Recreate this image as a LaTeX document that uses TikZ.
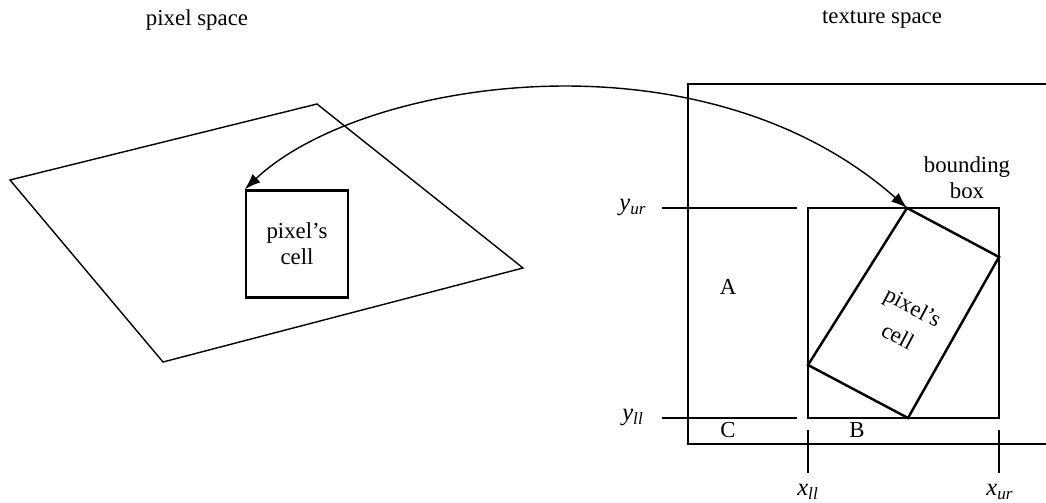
\documentclass[tikz,border=0pt]{standalone}
\usepackage{fontspec}
\setmainfont{Liberation Serif}
\usepackage{tikz}
\usetikzlibrary{arrows.meta,positioning}

\begin{document}
\begin{tikzpicture}[
    x=0.02cm, y=-0.02cm,
    every node/.style={font=\fontsize{13}{15}\selectfont},
    thin line/.style={line width=0.8pt},
    cell/.style={line width=1.4pt},
    cellbox/.style={draw, line width=1.4pt, align=center, minimum width=2.04cm, minimum height=2.14cm, inner sep=0pt},
    lbl/.style={inner sep=1pt},
    bound/.style={inner sep=1pt, font=\fontsize{14}{16}\selectfont\itshape},
    arr/.style={{Latex[length=3.2mm,width=2.3mm]}-{Latex[length=3.2mm,width=2.3mm]}, line width=0.8pt}
]
\useasboundingbox (0,0) rectangle (1046,503);

% titles
\node (tpix) at (197,20) {pixel space};
\node (ttex) at (882,20) {texture space};

% pixel space
\draw[thin line] (10,180) -- (317,104) -- (523,268) -- (163,362) -- cycle;
\node[cellbox] (pcell) at (297,244) {pixel's\\cell};

% texture space
\coordinate (tl) at (688,84);
\draw[thin line] (1046,84) -- (tl) -- (688,444) -- (1046,444);
\node[draw, thin line, minimum width=3.82cm, minimum height=4.2cm, inner sep=0pt] (bbox) at (903.5,313) {};
\node[align=center, lbl] (bblbl) at (967,178) {bounding\\box};

% bounds
\node[bound] (yur) at (633,208) {y\textsubscript{ur}};
\node[bound] (yll) at (633,418) {y\textsubscript{ll}};
\node[bound] (xll) at (808,492) {x\textsubscript{ll}};
\node[bound] (xur) at (1000,492) {x\textsubscript{ur}};
\draw[thin line] (662,208) -- (797,208);
\draw[thin line] (662,418) -- (797,418);
\draw[thin line] (808,430) -- (808,473);
\draw[thin line] (999,430) -- (999,473);

\node (ra) at (728,287) {A};
\node (rb) at (857,430) {B};
\node (rc) at (728,430) {C};

% rotated cell
\coordinate (c1) at (907,208);
\coordinate (c2) at (999,257);
\coordinate (c3) at (908,418);
\coordinate (c4) at (808,365);
\draw[cell] (c1) -- (c2) -- (c3) -- (c4) -- cycle;
\node[rotate=-28, lbl] (tcell1) at (912,309) {pixel's};
\node[rotate=-28, lbl] (tcell2) at (898,336) {cell};

% mapping
\draw[arr] (pcell.north west) .. controls (360,80) and (700,25) .. (c1);
\end{tikzpicture}
\end{document}
